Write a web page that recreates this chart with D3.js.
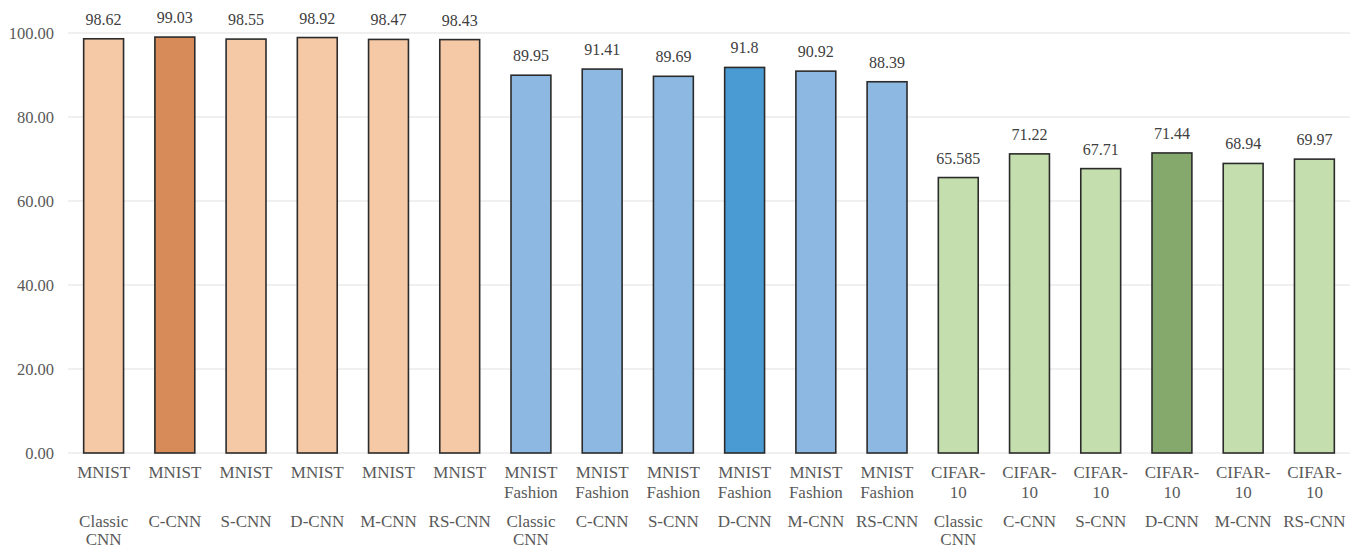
<!DOCTYPE html>
<html>
<head>
<meta charset="utf-8">
<script src="https://cdn.jsdelivr.net/npm/d3@7"></script>
<style>
  html, body { margin: 0; padding: 0; background: #fff; }
</style>
</head>
<body>
<svg id="chart" width="1362" height="549"></svg>
<script>
// Accuracy (%) of each CNN variant on three datasets
const datasets = ["MNIST", "MNIST Fashion", "CIFAR-10"];
const datasetLines = [["MNIST"], ["MNIST", "Fashion"], ["CIFAR-", "10"]];
const models = ["Classic CNN", "C-CNN", "S-CNN", "D-CNN", "M-CNN", "RS-CNN"];
const modelLines = [["Classic", "CNN"], ["C-CNN"], ["S-CNN"], ["D-CNN"], ["M-CNN"], ["RS-CNN"]];
const mnistValues = [98.62, 99.03, 98.55, 98.92, 98.47, 98.43];
const fashionValues = [89.95, 91.41, 89.69, 91.8, 90.92, 88.39];
const cifarValues = [65.585, 71.22, 67.71, 71.44, 68.94, 69.97];
const valueLabels = [
  ["98.62", "99.03", "98.55", "98.92", "98.47", "98.43"],
  ["89.95", "91.41", "89.69", "91.8", "90.92", "88.39"],
  ["65.585", "71.22", "67.71", "71.44", "68.94", "69.97"]
];
const highlightModel = [1, 3, 3]; // best-scoring variant per dataset
const yTicks = [0, 20, 40, 60, 80, 100];
const yTickLabels = ["0.00", "20.00", "40.00", "60.00", "80.00", "100.00"];

const seriesValues = [mnistValues, fashionValues, cifarValues];
const lightColors = ["#F5C8A6", "#8DB8E2", "#C4DFAD"];
const darkColors = ["#D68B58", "#4A9BD3", "#85A96C"];

const FONT = "'Liberation Serif', 'Times New Roman', Times, serif";

const rows = [];
datasets.forEach((ds, di) => {
  models.forEach((m, mi) => {
    rows.push({
      key: ds + "|" + m, di, mi,
      value: seriesValues[di][mi],
      label: valueLabels[di][mi],
      color: mi === highlightModel[di] ? darkColors[di] : lightColors[di]
    });
  });
});

const svg = d3.select("#chart");
const margin = { left: 68, right: 12, top: 33, bottom: 96 };
const W = 1362, H = 549;

const x = d3.scaleBand()
  .domain(rows.map(r => r.key))
  .range([margin.left, W - margin.right])
  .paddingInner(0.44)
  .paddingOuter(0.22);

const y = d3.scaleLinear()
  .domain([0, 100])
  .range([H - margin.bottom, margin.top]);

// gridlines
svg.append("g")
  .selectAll("line")
  .data(yTicks)
  .join("line")
  .attr("x1", margin.left)
  .attr("x2", W - margin.right)
  .attr("y1", d => y(d))
  .attr("y2", d => y(d))
  .attr("stroke", "#ebebeb")
  .attr("stroke-width", 1.5);

// y axis labels
const yAxis = d3.axisLeft(y)
  .tickValues(yTicks)
  .tickFormat((d, i) => yTickLabels[i])
  .tickSize(0)
  .tickPadding(14);
const yg = svg.append("g")
  .attr("transform", `translate(${margin.left},0)`)
  .call(yAxis)
  .attr("font-family", FONT)
  .attr("font-size", 16);
yg.select(".domain").remove();
yg.selectAll("text")
  .attr("fill", "#595959")
  .style("font-family", FONT)
  .style("font-size", "16.5px");

// bars
svg.append("g")
  .selectAll("rect")
  .data(rows)
  .join("rect")
  .attr("x", d => x(d.key))
  .attr("width", x.bandwidth())
  .attr("y", d => y(d.value))
  .attr("height", d => y(0) - y(d.value))
  .attr("fill", d => d.color)
  .attr("stroke", "#2b2b2b")
  .attr("stroke-width", 1.6);

// value labels
svg.append("g")
  .selectAll("text")
  .data(rows)
  .join("text")
  .attr("x", d => x(d.key) + x.bandwidth() / 2)
  .attr("y", d => y(d.value) - 14)
  .attr("text-anchor", "middle")
  .attr("fill", "#404040")
  .style("font-family", FONT)
  .style("font-size", "16px")
  .text(d => d.label);

// category labels: dataset then model
const catG = svg.append("g")
  .selectAll("g")
  .data(rows)
  .join("g")
  .attr("transform", d => `translate(${x(d.key) + x.bandwidth() / 2},0)`);

catG.each(function (d) {
  const g = d3.select(this);
  datasetLines[d.di].forEach((t, i) => {
    g.append("text")
      .attr("y", y(0) + 25 + i * 20)
      .attr("text-anchor", "middle")
      .attr("fill", "#595959")
      .style("font-family", FONT)
      .style("font-size", "17px")
      .text(t);
  });
  modelLines[d.mi].forEach((t, i) => {
    g.append("text")
      .attr("y", y(0) + 74 + i * 18)
      .attr("text-anchor", "middle")
      .attr("fill", "#595959")
      .style("font-family", FONT)
      .style("font-size", "17px")
      .text(t);
  });
});
</script>
</body>
</html>
